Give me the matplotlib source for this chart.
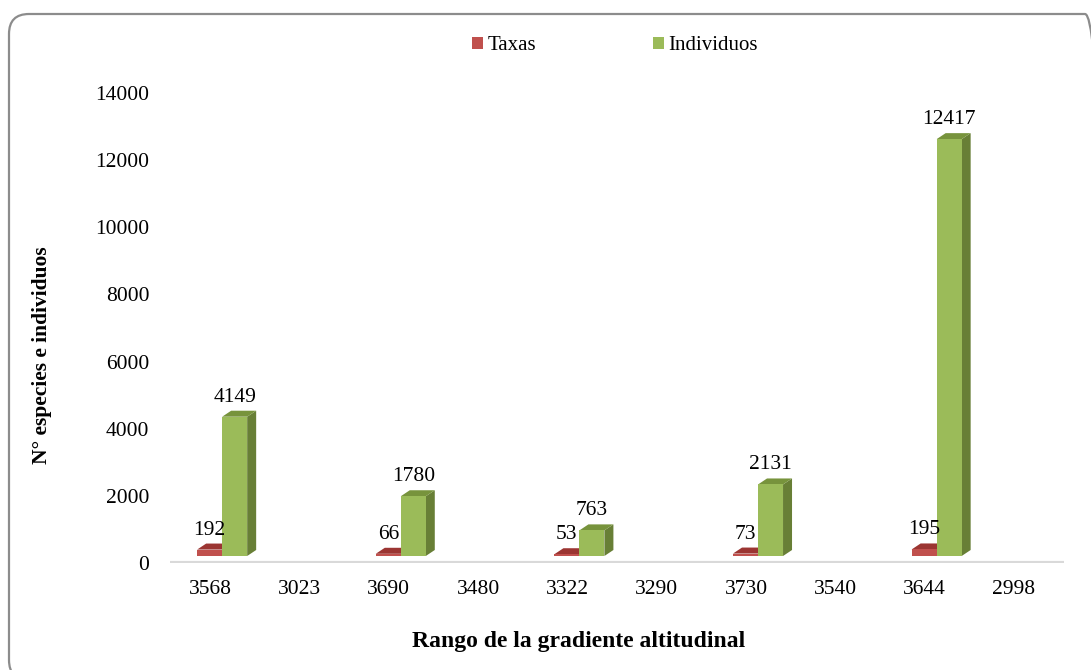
import matplotlib
matplotlib.use('Agg')
import matplotlib.pyplot as plt
from matplotlib.patches import Polygon, FancyBboxPatch, Patch
from matplotlib.transforms import ScaledTranslation

# Data
categorias = ['3568', '3023', '3690', '3480', '3322', '3290', '3730', '3540', '3644', '2998']
taxas = [192, None, 66, None, 53, None, 73, None, 195, None]
individuos = [4149, None, 1780, None, 763, None, 2131, None, 12417, None]
y_ticks = [0, 2000, 4000, 6000, 8000, 10000, 12000, 14000]

plt.rcParams['font.family'] = ['Liberation Serif', 'DejaVu Serif']

W, H, DPI = 1091, 670, 100
fig = plt.figure(figsize=(W / DPI, H / DPI), dpi=DPI)

# rounded chart border in inches (clipped on right and bottom like the original)
border = FancyBboxPatch((9 / DPI, -10 / DPI), 1096 / DPI, (670 - 14 + 10) / DPI,
                        boxstyle='round,pad=0,rounding_size=0.2',
                        transform=fig.dpi_scale_trans, fill=False,
                        edgecolor='#8c8c8c', linewidth=1.6, clip_on=False)
fig.patches.append(border)

# axes placed in pixel coordinates
left, right, top, bottom = 170, 1064, 93, 563
ax = fig.add_axes([left / W, 1 - bottom / H, (right - left) / W, (bottom - top) / H])
ax.set_xlim(-0.45, 9.56)
ax.set_ylim(0, 14000)
for s in ax.spines.values():
    s.set_visible(False)
ax.tick_params(length=0, labelsize=15.5)
ax.tick_params(axis='y', pad=15)
ax.tick_params(axis='x', pad=12)
ax.set_yticks(y_ticks)
ax.set_xticks(range(len(categorias)))
ax.set_xticklabels(categorias)

# floor line
ax.axhline(0, color='#d9d9d9', linewidth=3, zorder=1)

# 3D effect sizes in pixels
lift = 7 / DPI
dx_px, dy_px = 9, 6
dx = dx_px * (9.56 + 0.45) / (right - left)
dy = dy_px * 14000 / (bottom - top)
trans = ax.transData + ScaledTranslation(0, lift, fig.dpi_scale_trans)
label_trans = ax.transData + ScaledTranslation(0, 22 / DPI, fig.dpi_scale_trans)

bar_w = 0.28


def bar3d(x0, v, front, top_c, side_c):
    x1 = x0 + bar_w
    ax.add_patch(Polygon([(x1, 0), (x1 + dx, dy), (x1 + dx, v + dy), (x1, v)],
                         closed=True, facecolor=side_c, edgecolor='none',
                         transform=trans, zorder=2, clip_on=False))
    ax.add_patch(Polygon([(x0, v), (x1, v), (x1 + dx, v + dy), (x0 + dx, v + dy)],
                         closed=True, facecolor=top_c, edgecolor='none',
                         transform=trans, zorder=2, clip_on=False))
    ax.add_patch(Polygon([(x0, 0), (x1, 0), (x1, v), (x0, v)],
                         closed=True, facecolor=front, edgecolor='none',
                         transform=trans, zorder=2, clip_on=False))
    ax.text(x0 + bar_w / 2, v, str(v), ha='center', va='baseline',
            fontsize=15.5, transform=label_trans, zorder=3)


for i in range(len(categorias)):
    if taxas[i] is not None:
        bar3d(i - 0.146, taxas[i], '#c0504d', '#9b3532', '#8c2f2d')
    if individuos[i] is not None:
        bar3d(i + 0.134, individuos[i], '#9bbb59', '#77933c', '#687f36')

fig.text(42 / W, 1 - 355 / H, 'N° especies e individuos', rotation=90,
         ha='center', va='center', fontsize=15.5, fontweight='bold')
fig.text(579 / W, 1 - 641 / H, 'Rango de la gradiente altitudinal',
         ha='center', va='center', fontsize=17, fontweight='bold')

handles = [Patch(facecolor='#c0504d', label='Taxas'),
           Patch(facecolor='#9bbb59', label='Individuos')]
fig.legend(handles=handles, loc='center', bbox_to_anchor=(615 / W, 1 - 46 / H),
           ncol=2, frameon=False, fontsize=15, handlelength=0.55, handleheight=0.55,
           handletextpad=0.2, columnspacing=5.6)

fig.savefig('out.png', dpi=DPI)
